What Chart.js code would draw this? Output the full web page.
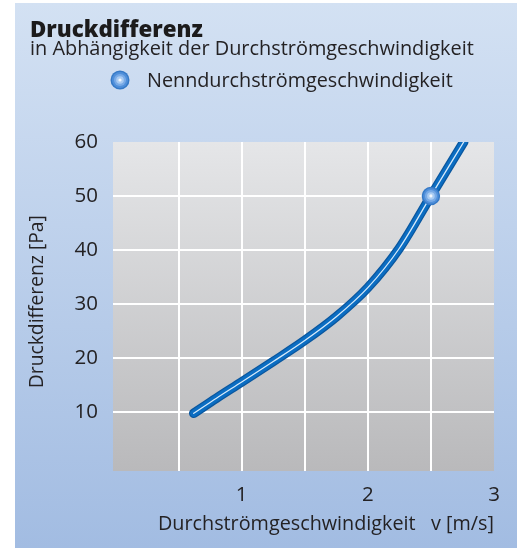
<!DOCTYPE html>
<html><head><meta charset="utf-8">
<script src="https://cdn.jsdelivr.net/npm/chart.js@4/dist/chart.umd.min.js"></script>
<style>html,body{margin:0;padding:0;background:#fff}canvas{display:block}</style>
</head><body>
<canvas id="c" width="517" height="548"></canvas>
<script>
// ---- data ----
const chartTitle = 'Druckdifferenz';
const chartSubtitle = 'in Abhängigkeit der Durchströmgeschwindigkeit';
const legendLabel = 'Nenndurchströmgeschwindigkeit';
const xAxisTitle = 'Durchströmgeschwindigkeit   v [m/s]';
const yAxisTitle = '\u2002Druckdifferenz [Pa]';
const velocity = [0.62, 0.8, 1.0, 1.25, 1.5, 1.75, 2.0, 2.25, 2.5, 2.76];
const pressure = [9.7, 12.5, 15.5, 19.3, 23.2, 27.6, 33.0, 40.3, 50.0, 60.0];
const nominalVelocity = [2.5];
const nominalPressure = [50];
const xTickLabels = [1, 2, 3];
const yTickLabels = [10, 20, 30, 40, 50, 60];

const FONT = "'Open Sans', 'DejaVu Sans', sans-serif";
const TEXT = '#242224';

const curve = velocity.map((v, i) => ({x: v, y: pressure[i]}));
const nominal = nominalVelocity.map((v, i) => ({x: v, y: nominalPressure[i]}));

function markerRings(ctx, x, y) {
  const rings = [[9.5, '#3579c6'], [8, '#4f8fda'], [6, '#78aae6'], [3.8, '#a9cbf2'], [1.6, '#f2f7fd']];
  for (const [r, c] of rings) {
    ctx.beginPath(); ctx.arc(x, y, r, 0, Math.PI * 2); ctx.fillStyle = c; ctx.fill();
  }
}

const bgPlugin = {
  id: 'bg',
  beforeDraw(chart) {
    const {ctx, width, height, chartArea: a} = chart;
    ctx.save();
    ctx.fillStyle = '#fff'; ctx.fillRect(0, 0, width, height);
    let g = ctx.createLinearGradient(0, 3, 0, height);
    g.addColorStop(0, '#d3e1f3'); g.addColorStop(1, '#a2bce2');
    ctx.fillStyle = g; ctx.fillRect(15, 3, width - 15, height - 3);
    g = ctx.createLinearGradient(0, a.top, 0, a.bottom);
    g.addColorStop(0, '#e5e6e8'); g.addColorStop(1, '#b9b9bb');
    ctx.fillStyle = g; ctx.fillRect(a.left, a.top, a.right - a.left, a.bottom - a.top);
    ctx.restore();
  }
};

const legendPlugin = {
  id: 'customLegend',
  afterDraw(chart) {
    const ctx = chart.ctx;
    ctx.save();
    markerRings(ctx, 120, 80);
    ctx.font = '19.8px ' + FONT;
    ctx.fillStyle = TEXT;
    ctx.textBaseline = 'alphabetic';
    ctx.textAlign = 'left';
    ctx.fillText(legendLabel, 147, 86.5);
    ctx.restore();
  }
};

const isHalf = v => Math.abs(v * 2 - Math.round(v * 2)) < 1e-6;

new Chart(document.getElementById('c'), {
  type: 'scatter',
  data: {
    datasets: [
      {label: 'center', data: nominal, order: 1, pointRadius: 1.6, pointBackgroundColor: '#f2f7fd', pointBorderWidth: 0, showLine: false},
      {label: 'inner', data: nominal, order: 2, pointRadius: 3.8, pointBackgroundColor: '#a9cbf2', pointBorderWidth: 0, showLine: false},
      {label: 'mid', data: nominal, order: 3, pointRadius: 6, pointBackgroundColor: '#78aae6', pointBorderWidth: 0, showLine: false},
      {label: legendLabel, data: nominal, order: 4, pointRadius: 8.5, pointBackgroundColor: '#4f8fda', pointBorderColor: '#3579c6', pointBorderWidth: 1.5, showLine: false},
      {label: 'highlight', data: curve, order: 8, showLine: true, pointRadius: 0, borderColor: '#d6eafa', borderWidth: 1.3, borderCapStyle: 'round', borderJoinStyle: 'round', cubicInterpolationMode: 'monotone'},
      {label: 'Druckdifferenz', data: curve, order: 9, showLine: true, pointRadius: 0, borderColor: '#0b6dc2', borderWidth: 7, borderCapStyle: 'round', borderJoinStyle: 'round', cubicInterpolationMode: 'monotone'},
      {label: 'edge', data: curve, order: 10, showLine: true, pointRadius: 0, borderColor: '#0a579f', borderWidth: 9.5, borderCapStyle: 'round', borderJoinStyle: 'round', cubicInterpolationMode: 'monotone'}
    ]
  },
  options: {
    responsive: false,
    animation: false,
    events: [],
    layout: {padding: {left: 30, right: 23, top: 0, bottom: 12}},
    plugins: {
      legend: {display: false},
      tooltip: {enabled: false},
      title: {display: true, text: chartTitle, align: 'start', color: '#1c1b1c',
        font: {family: FONT, size: 22.3, weight: '800', lineHeight: 1}, padding: {top: 19.2, bottom: -2.1}},
      subtitle: {display: true, text: chartSubtitle, align: 'start', color: TEXT,
        font: {family: FONT, size: 19.9, weight: 'normal', lineHeight: 1}, padding: {top: 0, bottom: 82.7}}
    },
    scales: {
      x: {
        type: 'linear', min: -0.02, max: 3.0,
        border: {display: false},
        grid: {drawTicks: false, lineWidth: 2,
          color: c => (c.tick && isHalf(c.tick.value) && c.tick.value > 0.1 && c.tick.value < 2.9) ? '#ffffff' : 'rgba(0,0,0,0)'},
        ticks: {stepSize: 0.5, autoSkip: false, maxRotation: 0, padding: 12, color: TEXT,
          font: {family: FONT, size: 20.5},
          callback: v => xTickLabels.includes(v) ? String(v) : ''},
        title: {display: true, text: xAxisTitle, align: 'end', color: TEXT,
          font: {family: FONT, size: 19.8, lineHeight: 1.2}, padding: {top: 0, bottom: 0}},
        afterFit: s => { s.height = 65; }
      },
      y: {
        type: 'linear', min: -1, max: 60,
        border: {display: false},
        grid: {drawTicks: false, lineWidth: 2,
          color: c => (c.tick && c.tick.value >= 10 && c.tick.value <= 50 && c.tick.value % 10 === 0) ? '#ffffff' : 'rgba(0,0,0,0)'},
        ticks: {stepSize: 10, autoSkip: false, padding: 15, color: TEXT,
          font: {family: FONT, size: 20.5},
          callback: v => yTickLabels.includes(v) ? String(v) : ''},
        title: {display: true, text: yAxisTitle, align: 'center', color: TEXT,
          font: {family: FONT, size: 19.3, lineHeight: 1.2}, padding: {top: -4.1, bottom: 0}},
        afterFit: s => { s.width = 83; }
      }
    }
  },
  plugins: [bgPlugin, legendPlugin]
});
</script>
</body></html>
